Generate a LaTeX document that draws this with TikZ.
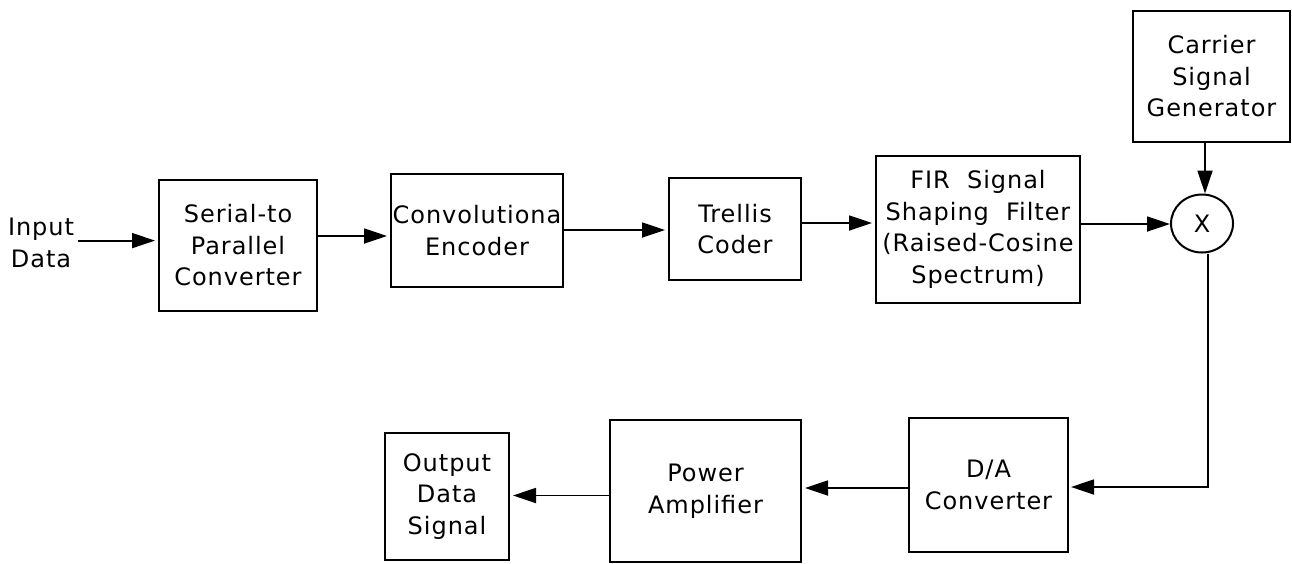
\documentclass[tikz,border=0pt]{standalone}
\usepackage{fontspec}
\setmainfont[LetterSpace=4]{DejaVu Sans}
\usetikzlibrary{arrows.meta,shapes.geometric}
\begin{document}
\begin{tikzpicture}[x=1pt,y=-1pt,
  every node/.style={font=\fontsize{24}{31.5}\selectfont, align=center, inner sep=0pt},
  blk/.style={draw, line width=2pt, rectangle},
  arr/.style={line width=1.8pt, -{Triangle[length=23pt,width=15pt]}, shorten >=3pt},
  ln/.style={line width=1.8pt}]
\useasboundingbox (0,0) rectangle (1292,563);
\fill[white] (0,0) rectangle (1292,563);

\node (inp) at (41,243) {Input\\Data};
\node[blk, minimum width=158pt, minimum height=131pt] (ser) at (238,245.5) {Serial-to\\Parallel\\Converter};
\node[blk, minimum width=172pt, minimum height=113pt] (conv) at (477,230.5) {Convolutiona\\Encoder};
\node[blk, minimum width=132pt, minimum height=102pt] (tre) at (735,229) {Trellis\\Coder};
\node[blk, minimum width=204pt, minimum height=147pt] (fir) at (978,229.5) {FIR\ \ Signal\\Shaping\ \ Filter\\(Raised-Cosine\\Spectrum)};
\node[draw, ellipse, line width=2pt, minimum width=62pt, minimum height=58pt] (mix) at (1202,223.5) {X};
\node[blk, minimum width=157pt, minimum height=131pt] (car) at (1211.5,76.5) {Carrier\\Signal\\Generator};
\node[blk, minimum width=159pt, minimum height=134pt] (da) at (988.5,485) {D/A\\Converter};
\node[blk, minimum width=191pt, minimum height=142pt] (pa) at (705.5,491) {Power\\Amplifier};
\node[blk, minimum width=124pt, minimum height=127pt] (out) at (447,496.5) {Output\\Data\\Signal};

\draw[arr] ([xshift=4pt]inp.east |- 0,240.6) -- (ser.west |- 0,240.6);
\draw[arr] (ser.east |- 0,236) -- (conv.west |- 0,236);
\draw[arr] (conv.east |- 0,230) -- (tre.west |- 0,230);
\draw[arr] (tre.east |- 0,223) -- (fir.west |- 0,223);
\draw[arr, shorten >=0pt] (fir.east |- 0,224) -- (mix.west |- 0,224);
\draw[arr, shorten >=0pt] (car.south -| 1205,0) -- (mix.north -| 1205,0);
\coordinate (turn) at (1208,487);
\draw[arr, shorten >=2pt] (mix.south -| turn) -- (turn) -- (da.east |- turn);
\draw[arr] (da.west |- 0,488) -- (pa.east |- 0,488);
\draw[arr] (pa.west |- 0,495.5) -- (out.east |- 0,495.5);
\end{tikzpicture}
\end{document}
